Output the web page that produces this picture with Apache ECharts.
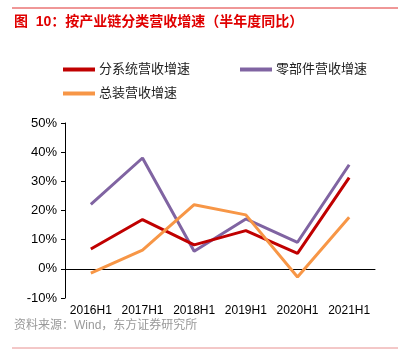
<!DOCTYPE html>
<html><head><meta charset="utf-8">
<script src="https://cdn.jsdelivr.net/npm/echarts@6/dist/echarts.min.js"></script>
<style>html,body{margin:0;padding:0;background:#fff;}#c{width:409px;height:360px;}</style>
</head><body><div id="c"></div>
<script>
var categories = ['2016H1','2017H1','2018H1','2019H1','2020H1','2021H1'];
var subsystem = [6.8, 16.9, 8.2, 13.1, 5.3, 31.3];
var parts = [22.1, 38.0, 6.0, 17.1, 9.1, 35.7];
var assembly = [-1.5, 6.4, 22.0, 18.5, -2.8, 17.7];
var yTicks = [-10, 0, 10, 20, 30, 40, 50];
var names = ['分系统营收增速', '零部件营收增速', '总装营收增速'];
var colors = ['#C00000', '#8064A2', '#F79646'];
var font = '"Liberation Sans", Arial, "Noto Sans CJK SC", sans-serif';

var chart = echarts.init(document.getElementById('c'));
function legendAt(i, left, top) {
  return {
    data: [{name: names[i], icon: 'rect'}],
    left: left, top: top, padding: 0, itemWidth: 32, itemHeight: 4, itemGap: 4,
    textStyle: {fontSize: 13, color: '#222', fontFamily: font, padding: [0,0,0,-1]}
  };
}
chart.setOption({
  animation: false,
  textStyle: {fontFamily: font},
  graphic: [
    {type: 'line', shape: {x1: 12, y1: 8, x2: 398, y2: 8}, style: {stroke: '#E03030', lineWidth: 1}},
    {type: 'text', left: 14, top: 15, style: {text: '图  10：按产业链分类营收增速（半年度同比）', fill: '#E00000', font: 'bold 14px ' + font}},
    {type: 'text', left: 14, top: 320, style: {text: '资料来源：Wind，东方证券研究所', fill: '#999', font: '12px ' + font}},
    {type: 'line', shape: {x1: 12, y1: 348, x2: 398, y2: 348}, style: {stroke: '#E89090', lineWidth: 1}}
  ],
  legend: [legendAt(0, 63, 63), legendAt(1, 240, 63), legendAt(2, 63, 87)],
  grid: {left: 65, right: 34, top: 123, bottom: 62},
  xAxis: {
    type: 'category', data: categories, boundaryGap: true,
    axisLine: {lineStyle: {color: '#000', width: 1}},
    axisTick: {length: 4, lineStyle: {color: '#000'}},
    axisLabel: {color: '#000', fontSize: 12, margin: 7, interval: 0}
  },
  yAxis: {
    type: 'value', min: yTicks[0], max: yTicks[yTicks.length-1], interval: 10,
    axisLine: {show: true, lineStyle: {color: '#000'}},
    axisTick: {show: true, length: 4, inside: false, lineStyle: {color: '#000'}},
    splitLine: {show: false},
    axisLabel: {color: '#000', fontSize: 13, margin: 8, formatter: '{value}%'}
  },
  series: [
    {name: names[0], type: 'line', data: subsystem, symbol: 'none', lineStyle: {width: 3, color: colors[0]}, itemStyle: {color: colors[0]}, z: 3},
    {name: names[1], type: 'line', data: parts, symbol: 'none', lineStyle: {width: 3, color: colors[1]}, itemStyle: {color: colors[1]}, z: 2},
    {name: names[2], type: 'line', data: assembly, symbol: 'none', lineStyle: {width: 3, color: colors[2]}, itemStyle: {color: colors[2]}, z: 4}
  ]
});
</script></body></html>
